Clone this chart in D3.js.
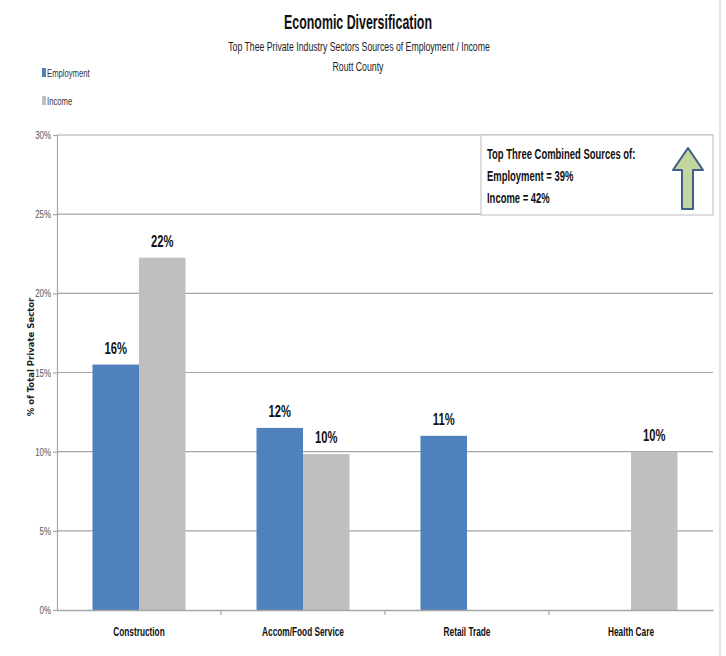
<html lang="en">
<head>
<meta charset="utf-8">
<title>Economic Diversification</title>
<script type="text/javascript" src="https://cdn.jsdelivr.net/npm/d3@7"></script>
<style type="text/css">
  body { margin: 0; background-color: #fff; }
  text { font-family: "Liberation Sans", Arial, sans-serif; }
</style>
</head>
<body>
<script type="text/javascript">

var categories = ["Construction", "Accom/Food Service", "Retail Trade", "Health Care"]
var seriesNames = ["Employment", "Income"]
var employment = [15.5, 11.5, 11.0, null]
var income = [22.25, 9.85, null, 10.0]
var yTicks = [0, 5, 10, 15, 20, 25, 30]
var noteLines = ["Top Three Combined Sources of:", "Employment = 39%", "Income =  42%"]

var colors = {"Employment": "#4f81bd", "Income": "#bfbfbf"}

var w = 726
var h = 656
var margin = {top: 135, right: 13, bottom: 46, left: 57}

// the original uses a narrow font, so squeeze the text horizontally
// (scale around the text's own anchor point)
function squeeze(sel, f) {
  sel.each(function() {
    var t = d3.select(this)
    var x = +t.attr("x") || 0
    var y = +t.attr("y") || 0
    t.attr("x", 0).attr("y", 0)
      .attr("transform", "translate(" + x + "," + y + ") scale(" + f + ",1)")
  })
}

// squeeze so that the text gets a given width
function fitWidth(sel, target) {
  sel.each(function() {
    var f = target / this.getComputedTextLength()
    d3.select(this).call(squeeze, f)
  })
}

var svg = d3.select("body")
  .append("svg")
  .attr("width", w)
  .attr("height", h)

// frame line on the right side
svg.append("line").attr("x1", 720).attr("x2", 720).attr("y1", 0).attr("y2", h)
  .attr("stroke", "#e4e4e4").attr("stroke-width", 2)

var xScale = d3.scaleBand()
  .domain(categories)
  .range([margin.left, w - margin.right])

var xInner = d3.scaleBand()
  .domain(seriesNames)
  .range([35.5, xScale.bandwidth() - 35.5])

var yScale = d3.scaleLinear()
  .domain([0, 30])
  .range([h - margin.bottom, margin.top])

// gridlines
svg.append("g")
  .selectAll("line")
  .data(yTicks.slice(1))
  .enter()
  .append("line")
  .attr("x1", margin.left)
  .attr("x2", w - margin.right)
  .attr("y1", function(d) { return yScale(d) })
  .attr("y2", function(d) { return yScale(d) })
  .attr("stroke", "#a6a6a6")
  .attr("stroke-width", 1.2)

// y axis
var yAxis = d3.axisLeft(yScale)
  .tickValues(yTicks)
  .tickSize(4)
  .tickFormat(function(d) { return d + "%" })

svg.append("g")
  .attr("transform", "translate(" + margin.left + ",0)")
  .call(yAxis)
  .call(function(g) {
    g.select(".domain").attr("stroke", "#a6a6a6").attr("stroke-width", 1.2)
    g.selectAll(".tick line").attr("stroke", "#a6a6a6").attr("stroke-width", 1.2)
    g.selectAll(".tick text").attr("x", -6).attr("fill", "#555").attr("font-size", "11px")
      .style("font-family", "'Liberation Sans', Arial, sans-serif")
      .call(squeeze, 0.72)
  })

// bars
var rows = categories.map(function(c, i) {
  return {cat: c, values: [{key: "Employment", v: employment[i]}, {key: "Income", v: income[i]}]}
})

var groups = svg.selectAll(".grp")
  .data(rows)
  .enter()
  .append("g")
  .attr("class", "grp")
  .attr("transform", function(d) { return "translate(" + xScale(d.cat) + ",0)" })

groups.selectAll("rect")
  .data(function(d) { return d.values.filter(function(e) { return e.v != null }) })
  .enter()
  .append("rect")
  .attr("x", function(d) { return xInner(d.key) })
  .attr("y", function(d) { return yScale(d.v) })
  .attr("width", xInner.bandwidth())
  .attr("height", function(d) { return yScale(0) - yScale(d.v) })
  .attr("fill", function(d) { return colors[d.key] })

groups.selectAll("text")
  .data(function(d) { return d.values.filter(function(e) { return e.v != null }) })
  .enter()
  .append("text")
  .text(function(d) { return Math.round(d.v) + "%" })
  .attr("text-anchor", "middle")
  .attr("x", function(d) { return xInner(d.key) + xInner.bandwidth() / 2 })
  .attr("y", function(d) { return yScale(d.v) - 11 })
  .attr("font-size", "16.5px")
  .attr("font-weight", "bold")
  .attr("fill", "#111")
  .call(squeeze, 0.68)

// x axis
var xAxis = d3.axisBottom(xScale).tickSize(0).tickPadding(17)
svg.append("g")
  .attr("transform", "translate(0," + yScale(0) + ")")
  .call(xAxis)
  .call(function(g) {
    g.select(".domain").attr("stroke", "#a6a6a6").attr("stroke-width", 1.5)
    g.selectAll(".tick text").attr("font-size", "12px").attr("font-weight", "bold").attr("fill", "#111")
      .style("font-family", "'Liberation Sans', Arial, sans-serif")
      .call(squeeze, 0.69)
  })

svg.append("g")
  .selectAll("line")
  .data(categories.slice(1))
  .enter()
  .append("line")
  .attr("x1", function(d) { return xScale(d) })
  .attr("x2", function(d) { return xScale(d) })
  .attr("y1", yScale(0))
  .attr("y2", yScale(0) + 5)
  .attr("stroke", "#a6a6a6")
  .attr("stroke-width", 1.2)

// axis title
svg.append("text")
  .text("% of Total Private Sector")
  .attr("transform", "translate(34,357) rotate(-90)")
  .attr("text-anchor", "middle")
  .attr("font-size", "8.5px")
  .attr("font-weight", "bold")
  .attr("fill", "#222")
  .style("font-family", "'DejaVu Sans', sans-serif")

// titles
svg.append("text").text("Economic Diversification")
  .attr("x", 358).attr("y", 29).attr("text-anchor", "middle")
  .attr("font-size", "20px").attr("font-weight", "bold").attr("fill", "#111")
  .call(fitWidth, 148)

svg.append("text").text("Top Thee Private Industry Sectors Sources of Employment / Income")
  .attr("x", 359).attr("y", 51).attr("text-anchor", "middle")
  .attr("font-size", "12px").attr("fill", "#222")
  .call(fitWidth, 262)

svg.append("text").text("Routt County")
  .attr("x", 358).attr("y", 71).attr("text-anchor", "middle")
  .attr("font-size", "12px").attr("fill", "#222")
  .call(fitWidth, 51)

// legend
var legend = svg.selectAll(".leg")
  .data(seriesNames)
  .enter()
  .append("g")
  .attr("class", "leg")
  .attr("transform", function(d, i) { return "translate(42," + (77 + i * 28) + ")" })

legend.append("rect")
  .attr("x", 0).attr("y", -9).attr("width", 4).attr("height", 9)
  .attr("fill", function(d) { return colors[d] })

legend.append("text")
  .text(function(d) { return d })
  .attr("x", 5).attr("y", 0)
  .attr("font-size", "10px").attr("fill", "#333")
  .call(squeeze, 0.77)

// note box
var note = svg.append("g")
note.append("rect")
  .attr("x", 481).attr("y", 135).attr("width", 232).attr("height", 80)
  .attr("fill", "#fff").attr("stroke", "#c8c8c8").attr("stroke-width", 1.2)

note.selectAll("text")
  .data(noteLines)
  .enter()
  .append("text")
  .text(function(d) { return d })
  .attr("x", 487)
  .attr("y", function(d, i) { return 159 + i * 22 })
  .attr("font-size", "15.5px")
  .attr("font-weight", "bold")
  .attr("fill", "#111")
  .call(squeeze, 0.61)

note.append("path")
  .attr("d", "M688,148 L703,170 L693,170 L693,209 L682,209 L682,170 L673,170 Z")
  .attr("fill", "#c3d69b")
  .attr("stroke", "#3f5e8c")
  .attr("stroke-width", 2)
  .attr("stroke-linejoin", "round")

</script>
</body>
</html>
